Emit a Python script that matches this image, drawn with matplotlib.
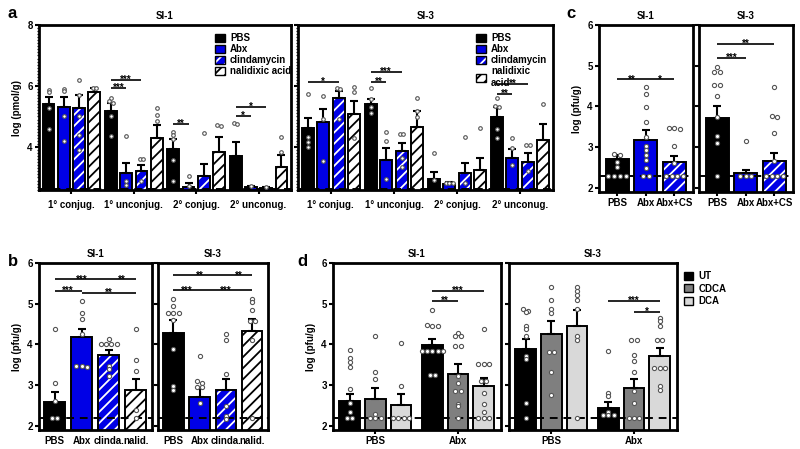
import matplotlib
matplotlib.use("Agg")
import matplotlib.pyplot as plt
import numpy as np
from matplotlib.patches import Patch
from matplotlib.legend_handler import HandlerTuple
from matplotlib.ticker import MultipleLocator

plt.rcParams['font.family'] = ['Liberation Sans', 'DejaVu Sans']
plt.rcParams['font.weight'] = 'bold'
plt.rcParams['axes.labelweight'] = 'bold'
plt.rcParams['axes.titleweight'] = 'bold'
plt.rcParams['hatch.linewidth'] = 1.3

# ---------------- data ----------------
a_groups = ["1\u00b0 conjug.", "1\u00b0 unconjug.", "2\u00b0 conjug.", "2\u00b0 unconug."]
a_treat = ["PBS", "Abx", "clindamycin", "nalidixic acid"]

a_si1_mean = [[5.41, 5.18, 3.93, 3.70],
              [5.31, 3.15, 2.69, 2.68],
              [5.27, 3.22, 3.05, 2.66],
              [5.80, 4.31, 3.84, 3.35]]
a_si1_sem = [[0.23, 0.27, 0.32, 0.47],
             [0.33, 0.34, 0.13, 0.04],
             [0.43, 0.18, 0.39, 0.03],
             [0.13, 0.41, 0.48, 0.39]]
a_si1_pts = [[[5.87, 5.8, 5.28, 4.6], [5.6, 5.5, 5.45, 5.0, 4.35], [4.5, 4.4, 4.25, 3.57, 2.9], [4.8, 4.75]],
             [[5.9, 5.83, 5.0, 4.2], [4.35, 2.9, 2.75], [3.05, 2.72], [2.72]],
             [[6.2, 5.7, 5.0, 4.4, 3.9], [3.62, 3.62, 2.9], [4.47], [2.68]],
             [[5.95, 5.92], [5.27, 5.05, 4.85], [4.7, 4.72], [4.33, 3.84]]]

a_si3_mean = [[4.62, 5.41, 2.95, 4.98],
              [4.82, 3.57, 2.78, 3.63],
              [5.61, 3.87, 3.15, 3.52],
              [5.08, 4.66, 3.25, 4.23]]
a_si3_sem = [[0.33, 0.16, 0.23, 0.33],
             [0.43, 0.40, 0.07, 0.30],
             [0.23, 0.26, 0.32, 0.28],
             [0.43, 0.52, 0.39, 0.52]]
a_si3_pts = [[[5.74, 4.33, 4.16, 4.0], [5.95, 5.56, 5.3, 5.1], [3.8, 2.92], [5.6, 5.34, 5.3, 4.58, 4.3]],
             [[5.67, 4.92, 3.54], [4.5, 4.2, 2.95], [2.82, 2.82, 2.82], [4.3, 3.97, 3.41]],
             [[5.92, 5.9, 4.92], [4.43, 4.43, 3.63, 3.35], [4.33, 2.82], [4.06, 4.08, 3.2]],
             [[5.97, 5.8, 4.3], [5.6, 5.18, 4.98], [4.62], [5.41]]]

# (group, treatment 1, treatment 2, y, label)
a_si1_sig = [(1, 0, 2, 6.2, "***"), (1, 0, 1, 5.93, "***"), (2, 0, 1, 4.75, "**"),
             (3, 0, 2, 5.31, "*"), (3, 0, 1, 5.02, "*")]
a_si3_sig = [(0, 0, 2, 6.13, "*"), (1, 0, 2, 6.46, "***"), (1, 0, 1, 6.13, "**"),
             (3, 0, 2, 6.07, "**"), (3, 0, 1, 5.74, "**")]

b_labels = ["PBS", "Abx", "clinda.", "nalid."]
b_si1_mean = [2.58, 4.18, 3.73, 2.87]
b_si1_sem = [0.25, 0.21, 0.13, 0.27]
b_si1_pts = [[4.37, 3.06, 2.61, 2.2, 2.2],
             [5.07, 4.78, 4.63, 4.26, 3.47, 3.48, 3.45],
             [4.14, 4.0, 4.0, 4.0, 4.0, 3.47, 3.39, 3.22],
             [4.37, 3.63, 3.34, 2.4, 2.2]]
b_si1_sig = [(0, 2, 5.6, "***"), (2, 3, 5.6, "**"), (0, 1, 5.31, "***"), (1, 3, 5.27, "**")]
b_si3_mean = [4.29, 2.70, 2.87, 4.33]
b_si3_sem = [0.31, 0.23, 0.29, 0.30]
b_si3_pts = [[5.12, 4.94, 4.78, 4.78, 4.78, 4.6, 3.89, 2.99, 2.88],
             [3.71, 3.11, 3.06, 2.96, 2.96, 2.57],
             [4.26, 4.12, 3.28, 2.5, 2.25, 2.17],
             [5.12, 5.05, 4.84, 4.57, 4.57, 4.12, 2.2]]
b_si3_sig = [(0, 2, 5.7, "**"), (2, 3, 5.7, "**"), (0, 1, 5.33, "***"), (1, 3, 5.33, "***")]

c_labels = ["PBS", "Abx", "Abx+CS"]
c_si1_mean = [2.70, 3.18, 2.64]
c_si1_sem = [0.10, 0.23, 0.14]
c_si1_pts = [[2.84, 2.82, 2.63, 2.52, 2.3, 2.3, 2.3, 2.3],
             [4.48, 4.31, 3.98, 3.61, 3.25, 3.03, 2.92, 2.81, 2.69, 2.48, 2.3, 2.3],
             [3.48, 3.46, 3.44, 3.03, 2.61, 2.3, 2.3, 2.3, 2.3]]
c_si1_sig = [(0, 1, 4.67, "**"), (1, 2, 4.67, "*")]
c_si3_mean = [3.71, 2.36, 2.66]
c_si3_sem = [0.31, 0.08, 0.19]
c_si3_pts = [[4.96, 4.84, 4.84, 4.53, 4.53, 4.26, 3.74, 3.28, 3.11, 2.3],
             [3.14, 2.3, 2.3, 2.3],
             [4.47, 3.77, 3.75, 3.36, 2.65, 2.3, 2.3, 2.3, 2.3]]
c_si3_sig = [(0, 1, 5.2, "***"), (0, 2, 5.53, "**")]

d_groups = ["PBS", "Abx"]
d_treat = ["UT", "CDCA", "DCA"]
d_si1_mean = [[2.61, 3.98], [2.66, 3.28], [2.52, 2.98]]
d_si1_sem = [[0.18, 0.16], [0.27, 0.23], [0.27, 0.20]]
d_si1_pts = [[[3.86, 3.67, 3.57, 3.45, 2.91, 2.57, 2.34, 2.2, 2.2],
              [4.84, 4.47, 4.45, 4.45, 3.84, 3.84, 3.84, 3.84, 3.84, 3.24, 3.24]],
             [[4.2, 3.33, 3.16, 2.3, 2.2, 2.2, 2.2],
              [4.29, 4.2, 4.2, 3.96, 3.96, 3.22, 3.06, 2.85, 2.85, 2.55, 2.48, 2.2]],
             [[4.04, 2.98, 2.2, 2.2, 2.2, 2.2],
              [4.37, 3.52, 3.52, 3.52, 3.11, 3.11, 2.81, 2.55, 2.34, 2.2, 2.2, 2.2]]]
d_si1_sig = [(1, 0, 2, 5.31, "***"), (1, 0, 1, 5.07, "**")]
d_si3_mean = [[3.88, 2.44], [4.25, 2.92], [4.45, 3.71]]
d_si3_sem = [[0.26, 0.15], [0.32, 0.24], [0.39, 0.21]]
d_si3_pts = [[[4.86, 4.82, 4.8, 4.45, 4.39, 4.2, 3.71, 3.65, 2.57, 2.2],
              [3.84, 2.81, 2.73, 2.34, 2.28, 2.28, 2.28]],
             [[5.42, 5.09, 4.86, 4.78, 3.81, 3.81, 3.32, 2.75],
              [4.12, 4.12, 3.75, 3.59, 3.32, 2.85, 2.57, 2.2, 2.2, 2.2]],
             [[5.42, 5.31, 5.21, 5.1, 4.86, 4.2, 4.1, 2.2],
              [4.66, 4.57, 4.45, 4.12, 4.12, 3.43, 3.43, 3.43, 2.98, 2.89]]]
d_si3_sig = [(1, 0, 2, 5.07, "***"), (1, 1, 2, 4.8, "*")]

# ---------------- styles ----------------
BLUE = "#0000e6"
STYLES = {
    "PBS": dict(face="k", hatch=None),
    "Abx": dict(face=BLUE, hatch=None),
    "clinda": dict(face=BLUE, hatch="///", hcol="white"),
    "nalid": dict(face="white", hatch="///", hcol="k"),
    "UT": dict(face="k", hatch=None),
    "CDCA": dict(face="#7f7f7f", hatch=None),
    "DCA": dict(face="#d9d9d9", hatch=None),
}
FS = 7

W, H = 800, 449
fig = plt.figure(figsize=(8, 4.49), dpi=100)


def box(l, t, r, b):
    return [l / W, 1 - b / H, (r - l) / W, (b - t) / H]


def spread(vals, xc, step):
    vals = sorted(vals, reverse=True)
    xs, ys = [], []
    i = 0
    while i < len(vals):
        j = i
        while j + 1 < len(vals) and vals[i] - vals[j + 1] < 0.06:
            j += 1
        n = j - i + 1
        for k in range(n):
            xs.append(xc + (k - (n - 1) / 2) * step)
            ys.append(vals[i + k])
        i = j + 1
    return xs, ys


def draw_bar(ax, x, h, err, key, width, pts, step, dot):
    st = STYLES[key]
    if st["hatch"]:
        ax.bar(x, h, width, color=st["face"], edgecolor=st["hcol"], hatch=st["hatch"], lw=0, zorder=2)
        ax.bar(x, h, width, fill=False, edgecolor="k", lw=1.4, zorder=3)
    else:
        ax.bar(x, h, width, color=st["face"], edgecolor="k", lw=1.4, zorder=2)
    ax.errorbar(x, h, yerr=[[0], [err]], fmt="none", ecolor="k", elinewidth=1.5,
                capsize=3, capthick=1.5, zorder=4)
    xs, ys = spread(pts, x, step)
    ax.plot(xs, ys, "o", ms=dot, mfc="white", mec="#555555", mew=0.8, ls="none", zorder=5)


def bracket(ax, x1, x2, y, label):
    ax.plot([x1, x2], [y, y], color="k", lw=1.2, solid_capstyle="butt", zorder=6)
    ax.annotate(label, ((x1 + x2) / 2, y), xytext=(0, -2.3), textcoords="offset points",
                ha="center", va="baseline", fontsize=FS)


def style_axes(ax, ylim, yticks, labels_on, title, lod):
    for s in ax.spines.values():
        s.set_linewidth(2)
    ax.set_ylim(*ylim)
    ax.set_yticks(yticks)
    ax.tick_params(length=3, width=1.5, labelsize=FS, pad=1.5)
    ax.tick_params(axis="y", labelleft=labels_on)
    ax.set_title(title, fontsize=FS, pad=4)
    ax.axhline(lod, color="k", lw=1.4, ls=(0, (4, 3)), zorder=4.5)


def legend_handle(key):
    st = STYLES[key]
    if st["hatch"]:
        return (Patch(facecolor=st["face"], edgecolor=st["hcol"], hatch=st["hatch"], lw=0),
                Patch(fill=False, edgecolor="k", lw=1))
    return Patch(facecolor=st["face"], edgecolor="k", lw=1)


# ---------------- panel a ----------------
a_keys = ["PBS", "Abx", "clinda", "nalid"]
a_off, a_w = 0.245, 0.19
for pos, means, sems, pts, sig, title, first, leg_labels in [
        ((39, 25, 291, 190), a_si1_mean, a_si1_sem, a_si1_pts, a_si1_sig, "SI-1", True, a_treat),
        ((298, 25, 553, 190), a_si3_mean, a_si3_sem, a_si3_pts, a_si3_sig, "SI-3", False,
         ["PBS", "Abx", "clindamycin", "nalidixic\nacid"])]:
    ax = fig.add_axes(box(*pos))
    for t, key in enumerate(a_keys):
        for g in range(len(a_groups)):
            draw_bar(ax, g + (t - 1.5) * a_off, means[t][g], sems[t][g], key, a_w,
                     pts[t][g], 0.055, 2.6)
    for g, t1, t2, y, lab in sig:
        bracket(ax, g + (t1 - 1.5) * a_off, g + (t2 - 1.5) * a_off, y, lab)
    style_axes(ax, (2.59, 8), [4, 6, 8], first, title, 2.63)
    ax.yaxis.set_minor_locator(MultipleLocator(0.1))
    ax.tick_params(which="minor", length=1.5, width=1)
    ax.set_xlim(-0.52, 3.52)
    ax.set_xticks(range(len(a_groups)))
    ax.set_xticklabels(a_groups)
    ax.tick_params(axis="x", pad=4)
    if first:
        ax.set_ylabel("log (pmol/g)", fontsize=FS, labelpad=4)
    ax.legend([legend_handle(k) for k in a_keys], leg_labels,
              handler_map={tuple: HandlerTuple(ndivide=1)},
              loc="upper left", bbox_to_anchor=(0.70, 0.95), frameon=False, fontsize=FS,
              handlelength=1.0, handleheight=0.9, handletextpad=0.5, labelspacing=0.1,
              borderaxespad=0, borderpad=0)

# ---------------- panel b ----------------
b_keys = ["PBS", "Abx", "clinda", "nalid"]
for pos, means, sems, pts, sig, title, first in [
        ((39, 263, 152, 430), b_si1_mean, b_si1_sem, b_si1_pts, b_si1_sig, "SI-1", True),
        ((158, 263, 268, 430), b_si3_mean, b_si3_sem, b_si3_pts, b_si3_sig, "SI-3", False)]:
    ax = fig.add_axes(box(*pos))
    for i, key in enumerate(b_keys):
        draw_bar(ax, i, means[i], sems[i], key, 0.78, pts[i], 0.2, 3)
    for i1, i2, y, lab in sig:
        bracket(ax, i1, i2, y, lab)
    style_axes(ax, (1.9, 6), [2, 3, 4, 5, 6], first, title, 2.2)
    ax.set_xlim(-0.58, 3.6)
    ax.set_xticks(range(4))
    ax.set_xticklabels(b_labels)
    ax.tick_params(axis="x", length=0, pad=4)
    if first:
        ax.set_ylabel("log (pfu/g)", fontsize=FS, labelpad=4)

# ---------------- panel c ----------------
c_keys = ["PBS", "Abx", "clinda"]
for pos, means, sems, pts, sig, title, first in [
        ((599, 25, 693, 192), c_si1_mean, c_si1_sem, c_si1_pts, c_si1_sig, "SI-1", True),
        ((699, 25, 793, 192), c_si3_mean, c_si3_sem, c_si3_pts, c_si3_sig, "SI-3", False)]:
    ax = fig.add_axes(box(*pos))
    for i, key in enumerate(c_keys):
        draw_bar(ax, i, means[i], sems[i], key, 0.8, pts[i], 0.2, 3)
    for i1, i2, y, lab in sig:
        bracket(ax, i1, i2, y, lab)
    style_axes(ax, (1.9, 6), [2, 3, 4, 5, 6], first, title, 2.3)
    ax.set_xlim(-0.63, 2.65)
    ax.set_xticks(range(3))
    ax.set_xticklabels(c_labels)
    if first:
        ax.set_ylabel("log (pfu/g)", fontsize=FS, labelpad=4)

# ---------------- panel d ----------------
d_off, d_w = 0.31, 0.25
for pos, means, sems, pts, sig, title, first in [
        ((333, 263, 501, 430), d_si1_mean, d_si1_sem, d_si1_pts, d_si1_sig, "SI-1", True),
        ((509, 263, 677, 430), d_si3_mean, d_si3_sem, d_si3_pts, d_si3_sig, "SI-3", False)]:
    ax = fig.add_axes(box(*pos))
    for t, key in enumerate(d_treat):
        for g in range(len(d_groups)):
            draw_bar(ax, g + (t - 1) * d_off, means[t][g], sems[t][g], key, d_w,
                     pts[t][g], 0.065, 3)
    for g, t1, t2, y, lab in sig:
        bracket(ax, g + (t1 - 1) * d_off, g + (t2 - 1) * d_off, y, lab)
    style_axes(ax, (1.9, 6), [2, 3, 4, 5, 6], first, title, 2.2)
    ax.set_xlim(-0.51, 1.52)
    ax.set_xticks(range(2))
    ax.set_xticklabels(d_groups)
    if first:
        ax.set_ylabel("log (pfu/g)", fontsize=FS, labelpad=4)
    else:
        ax.legend([legend_handle(k) for k in d_treat], d_treat,
                  loc="upper left", bbox_to_anchor=(1.04, 0.95), frameon=False, fontsize=FS,
                  handlelength=1.0, handleheight=0.9, handletextpad=0.5, labelspacing=0.25,
                  borderaxespad=0, borderpad=0)

# panel letters
for lab, x, y in [("a", 8, 13), ("b", 8, 262), ("c", 566, 13), ("d", 297, 262)]:
    fig.text(x / W, 1 - y / H, lab, fontsize=12, fontweight="bold", va="center", ha="left")

fig.savefig("out.png", dpi=100)
